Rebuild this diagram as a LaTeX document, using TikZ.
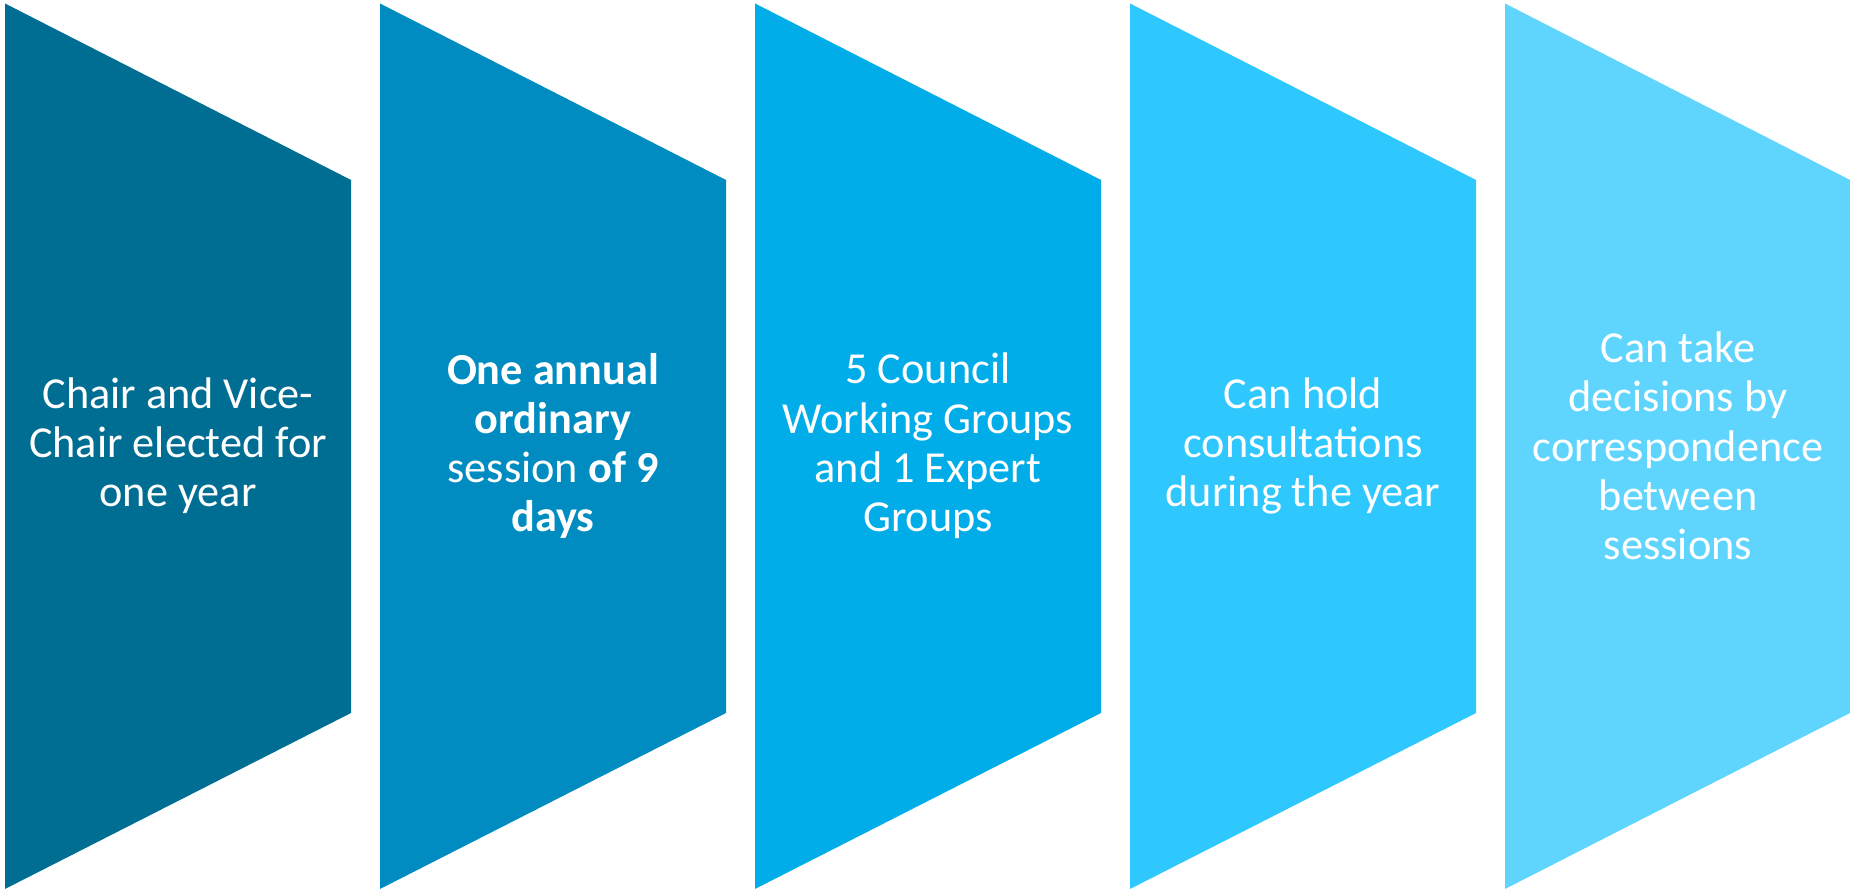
\documentclass[tikz,border=0pt]{standalone}
\usepackage{fontspec}
\setmainfont{Carlito}
\begin{document}
\begin{tikzpicture}[
    % Colors
    cone/.style={fill={rgb,255:red,0;green,110;blue,147}},
    ctwo/.style={fill={rgb,255:red,0;green,140;blue,193}},
    cthree/.style={fill={rgb,255:red,0;green,173;blue,233}},
    cfour/.style={fill={rgb,255:red,47;green,200;blue,254}},
    cfive/.style={fill={rgb,255:red,95;green,213;blue,254}},
    % Styles
    txt/.style={text=white, align=center, inner sep=0pt,
                font=\fontsize{12.6pt}{14pt}\selectfont},
  ]
  \useasboundingbox (0,0) rectangle (18.5,8.9);

  % Step 1: Chair
  \fill[cone] (0.05,8.865) -- (3.51,7.10) -- (3.51,1.77) -- (0.05,0.01) -- cycle;
  \node[txt] (chair) at (1.78,4.44) {Chair and Vice-\\Chair elected for\\one year};

  % Step 2: Session
  \fill[ctwo] (3.80,8.865) -- (7.26,7.10) -- (7.26,1.77) -- (3.80,0.01) -- cycle;
  \node[txt] (session) at (5.53,4.44) {\textbf{One annual}\\\textbf{ordinary}\\session \textbf{of 9}\\\textbf{days}};

  % Step 3: Groups
  \fill[cthree] (7.55,8.865) -- (11.01,7.10) -- (11.01,1.77) -- (7.55,0.01) -- cycle;
  \node[txt] (groups) at (9.28,4.44) {5 Council\\Working Groups\\and 1 Expert\\Groups};

  % Step 4: Consultations
  \fill[cfour] (11.30,8.865) -- (14.76,7.10) -- (14.76,1.77) -- (11.30,0.01) -- cycle;
  \node[txt] (consult) at (13.03,4.44) {Can hold\\consultations\\during the year};

  % Step 5: Correspondence
  \fill[cfive] (15.05,8.865) -- (18.5,7.10) -- (18.5,1.77) -- (15.05,0.01) -- cycle;
  \node[txt] (decide) at (16.78,4.44) {Can take\\decisions by\\correspondence\\between\\sessions};

\end{tikzpicture}
\end{document}
